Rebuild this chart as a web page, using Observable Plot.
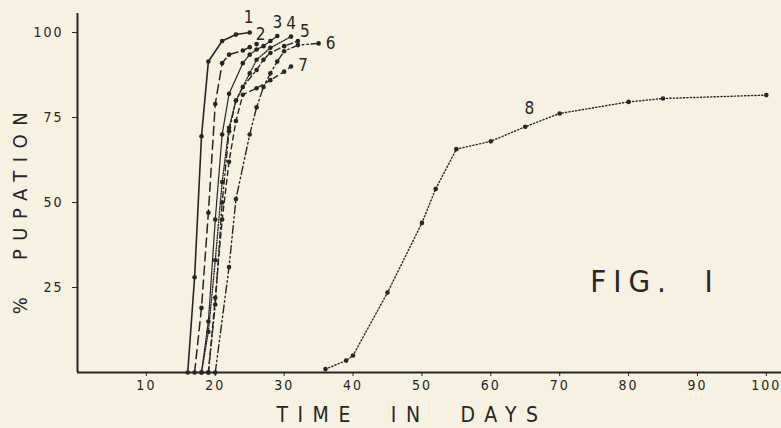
<!DOCTYPE html>
<html><head><meta charset="utf-8">
<script src="https://cdn.jsdelivr.net/npm/d3@7"></script>
<script src="https://cdn.jsdelivr.net/npm/@observablehq/plot@0.6"></script>
<style>
html,body{margin:0;padding:0;background:#f7f1e1;}
svg{display:block;}
</style></head>
<body><div id="chart"></div>
<script>
// series: [day, % pupation]
const curve1 = [[16,0],[17,28],[18,69.5],[19,91.5],[21,97.5],[23,99.4],[25,100]];
const curve2 = [[17,0],[18,19],[19,47],[20,79],[21,91],[22,93.5],[24,94.7],[25,95.7],[26,96.6]];
const curve3 = [[18,0],[19,15],[20,45],[21,70],[22,82],[24,91],[25,93.5],[26,95],[27,96],[28,97.5],[29,99]];
const curve4 = [[18,0],[19,12],[20,33],[21,56],[22,72],[23,80],[25,88],[26,92],[28,95.5],[31,98.8]];
const curve5 = [[19,0],[20,20],[21,50],[22,71],[23,80],[24,84],[26,89],[27,92],[28,94],[30,96],[32,97.5]];
const curve6 = [[20,0],[22,31],[23,51],[25,70],[26,78],[27,84],[28,88],[29,91.5],[30,94.5],[32,96.3],[35,96.8]];
const curve7 = [[19,0],[20,22],[21,45],[22,62],[23,74],[24,81.7],[26,83.6],[28,86],[30,88.5],[31,90]];
const curve8 = [[36,1],[39,3.5],[40,5],[45,23.5],[50,44],[52,54],[55,65.7],[60,68],[65,72.3],[70,76.2],[80,79.6],[85,80.6],[100,81.6]];
const curveNames = ["1","2","3","4","5","6","7","8"];
const xTicks = [10,20,30,40,50,60,70,80,90,100];
const yTicks = [25,50,75,100];

// styles (not data)
const seriesList = [curve1,curve2,curve3,curve4,curve5,curve6,curve7,curve8];
const dashes = ["none","9,5","none","1,1.6","6,3,1.5,3","8,3,1.5,3,1.5,3","5,4","1.2,2.2"];
const widths = [1.6,1.5,1.2,1.4,1.4,1.4,1.4,1.4];
// label anchor: index of point, dx, dy
const labelPos = [[-1,0,-15],[-1,5,-10],[-1,1,-13],[-1,1,-13],[-1,8,-9],[-1,13,0],[-1,13,-1],[8,5,-18]];

const ink = "#262626";
const fam = "'DejaVu Sans Condensed', 'DejaVu Sans', sans-serif";
const marks = [];
seriesList.forEach((s, i) => {
  const data = s.map(([d, p]) => ({d, p}));
  marks.push(Plot.line(data, {x: "d", y: "p", stroke: ink, strokeWidth: widths[i], strokeDasharray: dashes[i]}));
  marks.push(Plot.dot(data, {x: "d", y: "p", r: 2.3, fill: ink, stroke: "none"}));
  const [k, dx, dy] = labelPos[i];
  const pt = k < 0 ? data[data.length - 1] : data[k];
  marks.push(Plot.text([pt], {x: "d", y: "p", text: () => curveNames[i], dx, dy, fontSize: 17, fill: ink, fontFamily: fam}));
});
marks.push(Plot.ruleY([0], {x1: 0, x2: 102.2, stroke: ink, strokeWidth: 2.2}));
marks.push(Plot.ruleX([0], {y1: 0, y2: 105.6, stroke: ink, strokeWidth: 2}));
marks.push(Plot.axisX({ticks: xTicks, tickSize: 4, tickPadding: 4, tickFormat: d => String(d), fontSize: 14, label: null}));
marks.push(Plot.axisY({ticks: yTicks, tickSize: 5, tickPadding: 9, tickFormat: d => String(d), fontSize: 14, label: null}));

const chart = Plot.plot({
  width: 781, height: 428,
  marginLeft: 77, marginRight: 0, marginTop: 13, marginBottom: 56,
  x: {domain: [0, 102.2]},
  y: {domain: [0, 105.6]},
  style: {background: "#f7f1e1", color: ink, fontFamily: fam, letterSpacing: "2px", overflow: "visible"},
  marks
});
const svg = d3.select(chart);
svg.append("text").attr("x", 412).attr("y", 422).attr("text-anchor", "middle")
  .attr("font-size", 21).attr("letter-spacing", "9.5px").attr("fill", ink).attr("font-family", fam)
  .style("white-space", "pre")
  .text("TIME  IN  DAYS");
svg.append("text").attr("transform", "translate(27,209) rotate(-90)").attr("text-anchor", "middle")
  .attr("font-size", 20).attr("letter-spacing", "8.5px").attr("fill", ink).attr("font-family", fam)
  .style("white-space", "pre")
  .text("%  PUPATION");
svg.append("text").attr("x", 655).attr("y", 292).attr("text-anchor", "middle")
  .attr("font-size", 31).attr("letter-spacing", "7px").attr("fill", ink).attr("font-family", fam)
  .style("white-space", "pre")
  .text("FIG.  I");
document.getElementById("chart").appendChild(chart);
</script></body></html>
